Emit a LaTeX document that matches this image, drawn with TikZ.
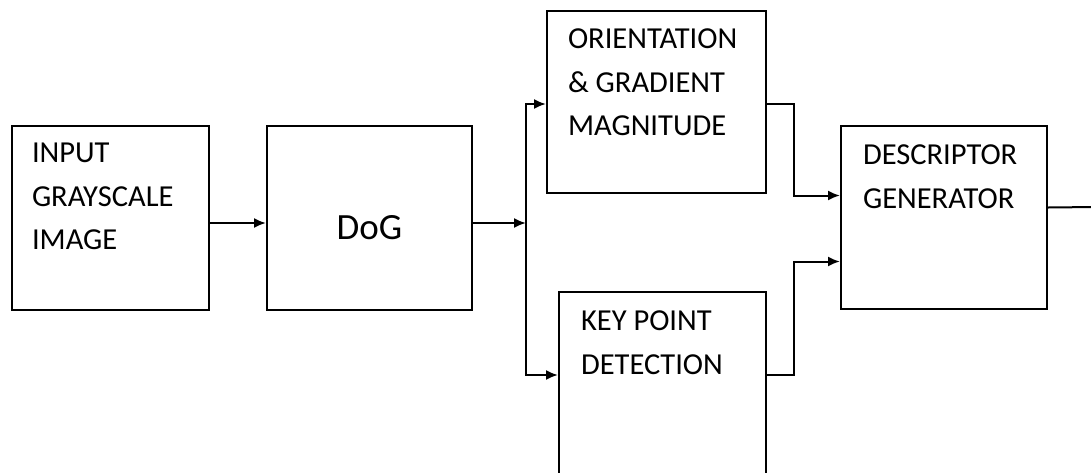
\documentclass[tikz,border=0pt]{standalone}
\usepackage{fontspec}
\setmainfont{Carlito}
\usetikzlibrary{arrows.meta,positioning}

\begin{document}
\begin{tikzpicture}[>={Latex[length=12pt,width=10pt]},x=1pt,y=1pt,line width=2pt,node distance=56pt,
  block/.style={draw,rectangle,inner sep=0pt,minimum width=197pt,minimum height=184pt},
  boxtext/.style={align=left,inner sep=0pt,font=\fontsize{30.5}{43.5}\selectfont}]

\path[use as bounding box,clip] (0,0) rectangle (1091,-472);

\node[block]   (input)  at (110.5,-218)                       {};
 \node[block,minimum width=205pt]  (dog) [right=of input]     {};
\node[block,minimum width=219pt,minimum height=182pt] (orient) at (656.5,-102) {};
\node[block,minimum width=207pt,minimum height=200pt] (key)    at (662.5,-392) {};
\node[block,minimum width=206pt,minimum height=183pt] (desc)   at (944,-217.5) {};

\node[boxtext] (inputtext) [below right=17pt and 20pt of input.north west]  {INPUT\\GRAYSCALE\\IMAGE};
\node[font=\fontsize{37}{44}\selectfont,anchor=base,inner sep=0pt] (dogtext) at ([yshift=-21pt]dog.center) {DoG};
\node[boxtext] (orienttext) [below right=18pt and 21pt of orient.north west] {ORIENTATION\\\& GRADIENT\\MAGNITUDE};
\node[boxtext] (keytext) [below right=19pt and 22pt of key.north west]      {KEY POINT\\DETECTION};
\node[boxtext] (desctext) [below right=19pt and 22pt of desc.north west]    {DESCRIPTOR\\GENERATOR};

\coordinate (split) at (526,-223);
\coordinate (out)   at (1095,-207);

\draw[->] ([yshift=-5pt]input.east) -- ([yshift=-5pt]dog.west);
\draw[->] ([yshift=-5pt]dog.east) -- (split);
\draw[->] (split) |- ([yshift=-2pt]orient.west);
\draw[->] (split) |- ([yshift=17pt]key.west);
\draw[->] ([yshift=-2pt]orient.east) -- ++(27,0) |- ([yshift=22pt]desc.west);
\draw[->] ([yshift=17pt]key.east) -- ++(27,0) |- ([yshift=-44pt]desc.west);
\draw ([yshift=10pt]desc.east) -- (out);

\end{tikzpicture}
\end{document}
